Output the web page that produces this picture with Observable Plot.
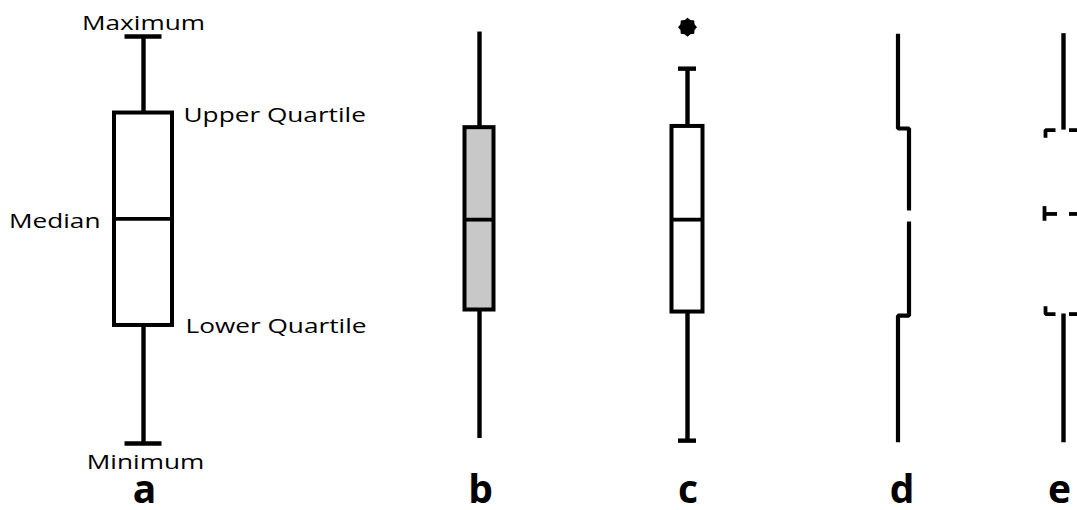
<!DOCTYPE html>
<html>
<head>
<meta charset="utf-8">
<script src="https://cdn.jsdelivr.net/npm/d3@7"></script>
<script src="https://cdn.jsdelivr.net/npm/@observablehq/plot@0.6"></script>
<style>
  html, body { margin: 0; padding: 0; background: #ffffff; }
  #chart svg { display: block; }
</style>
</head>
<body>
<div id="chart"></div>
<script>
// ---- data (schematic values, 0–100 scale) ----
const panel = ["a", "b", "c", "d", "e"];
const minimum       = [0.0, 1.2, 0.7, 0.3, 0.2];
const lowerQuartile = [29.0, 32.8, 32.3, 31.4, 31.8];
const median        = [55.2, 55.0, 55.0, 55.9, 56.4];
const upperQuartile = [81.2, 77.6, 77.9, 77.4, 77.0];
const maximum       = [100.0, 101.1, 92.1, 100.7, 100.7];
const outlierPanel = ["c"];
const outlierValue = [102.3];
const annotationText = ["Maximum", "Upper Quartile", "Median", "Lower Quartile", "Minimum"];
const annotationStat = ["maximum", "upperQuartile", "median", "lowerQuartile", "minimum"];

// ---- layout / style (not data) ----
const W = 1077, H = 510;
const layout = {
  a: {cx: 143,   kind: "box",   half: 29,   cap: 18.5, fill: "#ffffff", lx: 1},
  b: {cx: 479,   kind: "box",   half: 14.5, cap: 0,    fill: "#c8c8c8", lx: 1},
  c: {cx: 687,   kind: "box",   half: 15.5, cap: 9,    fill: "#ffffff", lx: 0.5},
  d: {cx: 897.5, kind: "offset", step: 11, gap: 1.35, lx: 4},
  e: {cx: 1063,  kind: "tufte", lx: -4}
};
const annotationPlace = {
  maximum:       {dx: 0,   anchor: "middle", dy: -13},
  upperQuartile: {dx: 40,  anchor: "start",  dy: 3},
  median:        {dx: -43, anchor: "end",    dy: 2.4},
  lowerQuartile: {dx: 42,  anchor: "start",  dy: 1},
  minimum:       {dx: 2,   anchor: "middle", dy: 19}
};

const stats = panel.map((p, i) => ({
  panel: p,
  minimum: minimum[i], lowerQuartile: lowerQuartile[i], median: median[i],
  upperQuartile: upperQuartile[i], maximum: maximum[i]
}));
const byPanel = Object.fromEntries(stats.map(s => [s.panel, s]));

// box-style panels
const boxStats = stats.filter(s => layout[s.panel].kind === "box");
const rects = boxStats.map(s => ({x1: layout[s.panel].cx - layout[s.panel].half, x2: layout[s.panel].cx + layout[s.panel].half,
  y1: s.lowerQuartile, y2: s.upperQuartile, fill: layout[s.panel].fill}));
const medianRules = boxStats.map(s => ({y: s.median, x1: layout[s.panel].cx - layout[s.panel].half, x2: layout[s.panel].cx + layout[s.panel].half}));
const whiskers = [];
for (const s of stats) {
  const L = layout[s.panel];
  if (L.kind === "box" || L.kind === "tufte") {
    whiskers.push({x: L.cx, y1: s.upperQuartile, y2: s.maximum});
    whiskers.push({x: L.cx, y1: s.minimum, y2: s.lowerQuartile});
  }
}
const caps = [];
for (const s of boxStats) {
  const L = layout[s.panel];
  if (L.cap > 0) {
    caps.push({y: s.maximum, x1: L.cx - L.cap, x2: L.cx + L.cap});
    caps.push({y: s.minimum, x1: L.cx - L.cap, x2: L.cx + L.cap});
  }
}

// offset (d) panel
const dS = byPanel.d, dL = layout.d;
const dLine = [
  {seg: 1, x: dL.cx, y: dS.maximum},
  {seg: 1, x: dL.cx, y: dS.upperQuartile},
  {seg: 1, x: dL.cx + dL.step, y: dS.upperQuartile},
  {seg: 1, x: dL.cx + dL.step, y: dS.median + dL.gap},
  {seg: 2, x: dL.cx + dL.step, y: dS.median - dL.gap},
  {seg: 2, x: dL.cx + dL.step, y: dS.lowerQuartile},
  {seg: 2, x: dL.cx, y: dS.lowerQuartile},
  {seg: 2, x: dL.cx, y: dS.minimum}
];

// tufte-style (e) panel
const eS = byPanel.e, eL = layout.e;
const eBrackets = [
  {seg: 1, x: eL.cx - 18, y: eS.upperQuartile - 1.9},
  {seg: 1, x: eL.cx - 18, y: eS.upperQuartile},
  {seg: 1, x: eL.cx - 8,  y: eS.upperQuartile},
  {seg: 2, x: eL.cx - 18, y: eS.lowerQuartile + 1.9},
  {seg: 2, x: eL.cx - 18, y: eS.lowerQuartile},
  {seg: 2, x: eL.cx - 8,  y: eS.lowerQuartile}
];
const eMedTick = [{x: eL.cx - 19, y1: eS.median - 1.8, y2: eS.median + 1.8}];
const eMedBar = [{y: eS.median, x1: eL.cx - 19, x2: eL.cx - 6}];
const eDashes = [eS.upperQuartile, eS.median, eS.lowerQuartile].map(v => ({y: v, x1: eL.cx + 6, x2: W}));

// outlier
const outliers = outlierPanel.map((p, i) => ({x: layout[p].cx, y: outlierValue[i]}));

// annotations on panel a
const annotations = annotationText.map((t, i) => {
  const st = annotationStat[i], P = annotationPlace[st];
  return {text: t, x: layout.a.cx + P.dx, y: byPanel.a[st], anchor: P.anchor, dy: P.dy};
});

// 8-point star symbol
const star8 = {
  draw(ctx, size) {
    const R = Math.sqrt(size / Math.PI), r = R * 0.8;
    for (let k = 0; k < 16; k++) {
      const a = k * Math.PI / 8 - Math.PI / 2, rr = k % 2 ? r : R;
      if (k === 0) ctx.moveTo(rr * Math.cos(a), rr * Math.sin(a));
      else ctx.lineTo(rr * Math.cos(a), rr * Math.sin(a));
    }
    ctx.closePath();
  }
};

const chart = Plot.plot({
  width: W, height: H,
  marginTop: 36, marginBottom: 67, marginLeft: 0, marginRight: 0,
  style: {fontFamily: "'Open Sans', sans-serif", background: "#ffffff", color: "#000"},
  x: {domain: [0, W], axis: null},
  y: {domain: [0, 100], axis: null},
  marks: [
    Plot.rect(rects, {x1: "x1", x2: "x2", y1: "y1", y2: "y2", fill: "fill", stroke: "#000", strokeWidth: 4, strokeLinejoin: "miter"}),
    Plot.ruleY(medianRules, {y: "y", x1: "x1", x2: "x2", stroke: "#000", strokeWidth: 3.8}),
    Plot.ruleX(whiskers, {x: "x", y1: "y1", y2: "y2", stroke: "#000", strokeWidth: 4.4}),
    Plot.ruleY(caps, {y: "y", x1: "x1", x2: "x2", stroke: "#000", strokeWidth: 4.4}),
    Plot.line(dLine, {x: "x", y: "y", z: "seg", stroke: "#000", strokeWidth: 4.2, strokeLinejoin: "miter", strokeLinecap: "butt"}),
    Plot.line(eBrackets, {x: "x", y: "y", z: "seg", stroke: "#000", strokeWidth: 3.8, strokeLinejoin: "miter", strokeLinecap: "butt"}),
    Plot.ruleX(eMedTick, {x: "x", y1: "y1", y2: "y2", stroke: "#000", strokeWidth: 3.8}),
    Plot.ruleY(eMedBar, {y: "y", x1: "x1", x2: "x2", stroke: "#000", strokeWidth: 3.8}),
    Plot.ruleY(eDashes, {y: "y", x1: "x1", x2: "x2", stroke: "#000", strokeWidth: 3.8}),
    Plot.dot(outliers, {x: "x", y: "y", r: 9.5, symbol: star8, fill: "#000", stroke: "none"}),
    ...["start", "middle", "end"].map(anchor =>
      Plot.text(annotations.filter(d => d.anchor === anchor), {
        x: "x", y: "y", text: "text", textAnchor: anchor,
        fontSize: 20, fill: "#000"
      })
    ),
    Plot.text(panel, {x: d => layout[d].cx + layout[d].lx, frameAnchor: "bottom", dy: 59, text: d => d,
      fontSize: 39, fontWeight: "bold", fill: "#000"})
  ]
});
document.getElementById("chart").append(chart);

// per-label vertical offsets and horizontal stretch of the annotation font
const annByText = Object.fromEntries(annotations.map(a => [a.text, a]));
chart.querySelectorAll("text").forEach(t => {
  const a = annByText[t.textContent];
  if (!a) return;
  t.setAttribute("dy", a.dy + "px");
  const w = t.getComputedTextLength();
  t.setAttribute("textLength", (w * 1.31).toFixed(1));
  t.setAttribute("lengthAdjust", "spacingAndGlyphs");
});
</script>
</body>
</html>
